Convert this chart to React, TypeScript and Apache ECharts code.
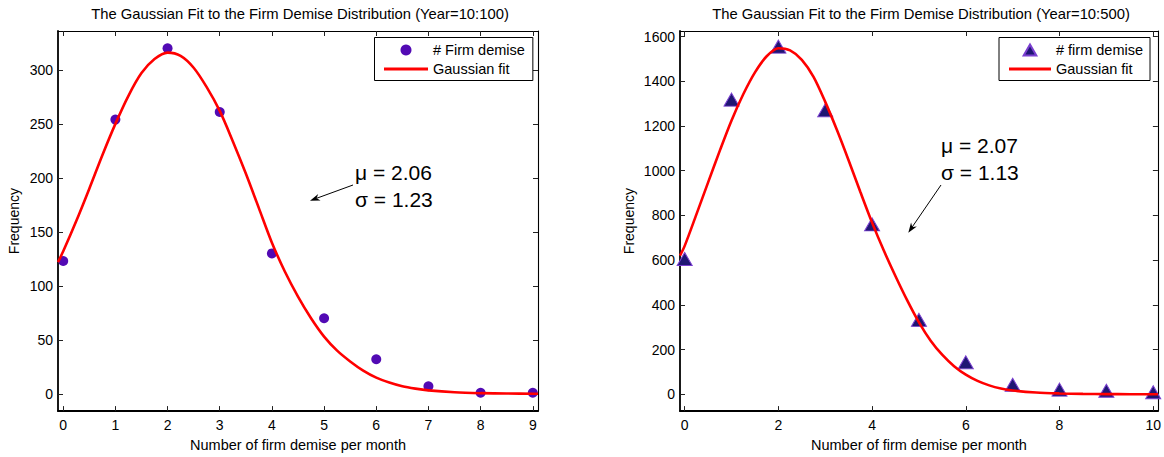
import React, { useEffect, useRef } from 'react';
import * as echarts from 'echarts';

// ---------- data ----------
const titleLeft = 'The Gaussian Fit to the Firm Demise Distribution (Year=10:100)';
const titleRight = 'The Gaussian Fit to the Firm Demise Distribution (Year=10:500)';
const xName = 'Number of firm demise per month';
const yName = 'Frequency';

const xLeft = [0, 1, 2, 3, 4, 5, 6, 7, 8, 9];
const freqLeft = [123, 254, 320, 261, 130, 70, 32, 7, 1, 1];
const fitXLeft = [-0.1, 0, 0.25, 0.5, 0.75, 1, 1.25, 1.5, 1.75, 2, 2.25, 2.5, 2.75, 3, 3.25, 3.5, 3.75, 4, 4.25, 4.5, 4.75, 5, 5.25, 5.5, 5.75, 6, 6.25, 6.5, 6.75, 7, 7.5, 8, 8.5, 9, 9.1];
const fitYLeft = [122, 132, 160, 190, 221, 250, 276, 297, 310, 316, 313, 302, 284, 262, 234, 204, 172, 140, 113, 90, 70, 53, 40, 30, 21.5, 15, 10.5, 7, 4.8, 3.2, 1.4, 0.6, 0.3, 0.1, 0.1];

const xRight = [0, 1, 2, 3, 4, 5, 6, 7, 8, 9, 10];
const freqRight = [605, 1318, 1555, 1270, 760, 333, 143, 43, 21, 16, 9];
const fitXRight = [-0.1, 0, 0.25, 0.5, 0.75, 1, 1.25, 1.5, 1.75, 2, 2.25, 2.5, 2.75, 3, 3.25, 3.5, 3.75, 4, 4.25, 4.5, 4.75, 5, 5.25, 5.5, 5.75, 6, 6.25, 6.5, 6.75, 7, 7.5, 8, 8.5, 9, 9.5, 10, 10.1];
const fitYRight = [620, 664, 805, 948, 1090, 1225, 1342, 1440, 1512, 1548, 1538, 1496, 1420, 1308, 1182, 1046, 905, 768, 643, 528, 420, 322, 240, 176, 126, 88, 60, 40, 26, 17, 8, 4, 2, 1, 0.5, 0.3, 0.2];

const xTicksLeft = [0, 1, 2, 3, 4, 5, 6, 7, 8, 9];
const yTicksLeft = [0, 50, 100, 150, 200, 250, 300];
const xTicksRight = [0, 2, 4, 6, 8, 10];
const yTicksRight = [0, 200, 400, 600, 800, 1000, 1200, 1400, 1600];

const xRangeLeft = [-0.1, 9.1];
const yRangeLeft = [-16, 336];
const xRangeRight = [-0.1, 10.1];
const yRangeRight = [-75, 1625];

const seriesNamesLeft = ['# Firm demise', 'Gaussian fit'];
const seriesNamesRight = ['# firm demise', 'Gaussian fit'];
const annotLeft = ['\u03bc = 2.06', '\u03c3 = 1.23'];
const annotRight = ['\u03bc = 2.07', '\u03c3 = 1.13'];

// ---------- styling helpers ----------
const FONT = "'Liberation Sans', Arial, Helvetica, sans-serif";
const LINE_ICON = 'path://M0,0 L44,0 L44,3 L0,3 Z';
const TRI_ICON = 'path://M7.5,0 L15,13 L0,13 Z';

function makeAxis(kind: 'x' | 'y', gridIndex: number, range: number[], ticks: number[], mirror: boolean, extra: any = {}) {
  const position = kind === 'x' ? (mirror ? 'top' : 'bottom') : (mirror ? 'right' : 'left');
  return {
    type: 'value',
    gridIndex,
    position,
    min: range[0],
    max: range[1],
    axisLine: { show: true, onZero: false, lineStyle: { color: '#000', width: mirror ? 1.1 : 1.8 } },
    axisTick: { show: true, inside: true, length: 5, customValues: ticks, lineStyle: { color: '#222', width: 1 } },
    axisLabel: {
      show: !mirror,
      customValues: ticks,
      color: '#000',
      fontSize: 14,
      fontFamily: FONT,
      margin: kind === 'x' ? 7 : 5,
      formatter: (v: number) => String(v),
    },
    splitLine: { show: false },
    ...extra,
  };
}

function arrow(x1: number, y1: number, x2: number, y2: number, len = 10, half = 3.5) {
  const dx = x2 - x1, dy = y2 - y1;
  const L = Math.hypot(dx, dy);
  const ux = dx / L, uy = dy / L;
  const nx = -uy, ny = ux;
  const bx = x2 - ux * len, by = y2 - uy * len;
  const kx = x2 - ux * len * 0.7, ky = y2 - uy * len * 0.7;
  return [
    { type: 'line', shape: { x1, y1, x2: kx, y2: ky }, style: { stroke: '#000', lineWidth: 1 } },
    {
      type: 'polygon',
      shape: { points: [[x2, y2], [bx + nx * half, by + ny * half], [kx, ky], [bx - nx * half, by - ny * half]] },
      style: { fill: '#000' },
    },
  ];
}

function text(str: string, x: number, y: number, size: number, align: string) {
  return {
    type: 'text',
    x,
    y,
    style: {
      text: str,
      fill: '#000',
      fontSize: size,
      fontFamily: FONT,
      textAlign: align,
      align,
      textVerticalAlign: 'middle',
      verticalAlign: 'middle',
    },
  };
}

const nameStyle = { color: '#000', fontSize: 14.5, fontFamily: FONT };

const legendCommon = {
  orient: 'vertical',
  itemHeight: 11,
  itemGap: 4,
  borderColor: '#000',
  borderWidth: 1,
  backgroundColor: '#fff',
  selectedMode: false,
  symbolKeepAspect: true,
  textStyle: { color: '#000', fontSize: 14.5, fontFamily: FONT },
};

const option: any = {
  animation: false,
  backgroundColor: '#fff',
  grid: [
    { left: 58, top: 31, width: 480, height: 384.5 },
    { left: 680, top: 31, width: 480, height: 384.5 },
  ],
  xAxis: [
    makeAxis('x', 0, xRangeLeft, xTicksLeft, false, { name: xName, nameLocation: 'middle', nameGap: 23, nameTextStyle: nameStyle }),
    makeAxis('x', 0, xRangeLeft, xTicksLeft, true),
    makeAxis('x', 1, xRangeRight, xTicksRight, false, { name: xName, nameLocation: 'middle', nameGap: 23, nameTextStyle: nameStyle }),
    makeAxis('x', 1, xRangeRight, xTicksRight, true),
  ],
  yAxis: [
    makeAxis('y', 0, yRangeLeft, yTicksLeft, false, { name: yName, nameLocation: 'middle', nameGap: 37, nameTextStyle: { ...nameStyle, fontSize: 14 } }),
    makeAxis('y', 0, yRangeLeft, yTicksLeft, true),
    makeAxis('y', 1, yRangeRight, yTicksRight, false, { name: yName, nameLocation: 'middle', nameGap: 44.5, nameTextStyle: { ...nameStyle, fontSize: 14 } }),
    makeAxis('y', 1, yRangeRight, yTicksRight, true),
  ],
  legend: [
    {
      ...legendCommon,
      data: [
        { name: seriesNamesLeft[0], icon: 'circle' },
        { name: seriesNamesLeft[1], icon: LINE_ICON },
      ],
      left: 374.5,
      top: 37.5,
      itemWidth: 44,
      padding: [5, 8, 4, 9.5],
    },
    {
      ...legendCommon,
      data: [
        { name: seriesNamesRight[0], icon: TRI_ICON },
        { name: seriesNamesRight[1], icon: LINE_ICON },
      ],
      left: 999,
      top: 37.5,
      itemWidth: 42,
      padding: [5, 7, 4, 10],
    },
  ],
  series: [
    {
      name: seriesNamesLeft[0],
      type: 'scatter',
      xAxisIndex: 0,
      yAxisIndex: 0,
      symbol: 'circle',
      symbolSize: 10,
      itemStyle: { color: '#520ab4', opacity: 1 },
      data: xLeft.map((x, i) => [x, freqLeft[i]]),
    },
    {
      name: seriesNamesLeft[1],
      type: 'line',
      xAxisIndex: 0,
      yAxisIndex: 0,
      symbol: 'none',
      showSymbol: false,
      smooth: 0.3,
      lineStyle: { color: '#ff0000', width: 2.6 },
      itemStyle: { color: '#ff0000' },
      data: fitXLeft.map((x, i) => [x, fitYLeft[i]]),
    },
    {
      name: seriesNamesRight[0],
      type: 'scatter',
      xAxisIndex: 2,
      yAxisIndex: 2,
      symbol: 'triangle',
      symbolSize: [15, 13],
      itemStyle: { color: '#1f1673', borderColor: '#7a3fd0', borderWidth: 1, opacity: 1 },
      data: xRight.map((x, i) => [x, freqRight[i]]),
    },
    {
      name: seriesNamesRight[1],
      type: 'line',
      xAxisIndex: 2,
      yAxisIndex: 2,
      symbol: 'none',
      showSymbol: false,
      smooth: 0.3,
      lineStyle: { color: '#ff0000', width: 2.6 },
      itemStyle: { color: '#ff0000' },
      data: fitXRight.map((x, i) => [x, fitYRight[i]]),
    },
  ],
  graphic: [
    text(titleLeft, 300, 14, 14.8, 'center'),
    text(titleRight, 921, 14, 14.8, 'center'),
    text(annotLeft[0], 355, 172, 21, 'left'),
    text(annotLeft[1], 355, 199, 21, 'left'),
    ...arrow(353, 185, 310, 200.7),
    text(annotRight[0], 941, 145, 21, 'left'),
    text(annotRight[1], 941, 172, 21, 'left'),
    ...arrow(941, 185, 908.3, 232.7),
  ],
};

export default function App() {
  const ref = useRef<HTMLDivElement>(null);
  useEffect(() => {
    const chart = echarts.init(ref.current!, null, { renderer: 'svg' });
    chart.setOption(option);
    return () => chart.dispose();
  }, []);
  return (
    <div
      ref={ref}
      style={{ position: 'absolute', left: 0, top: 0, width: 1164, height: 457, background: '#fff' }}
    />
  );
}
